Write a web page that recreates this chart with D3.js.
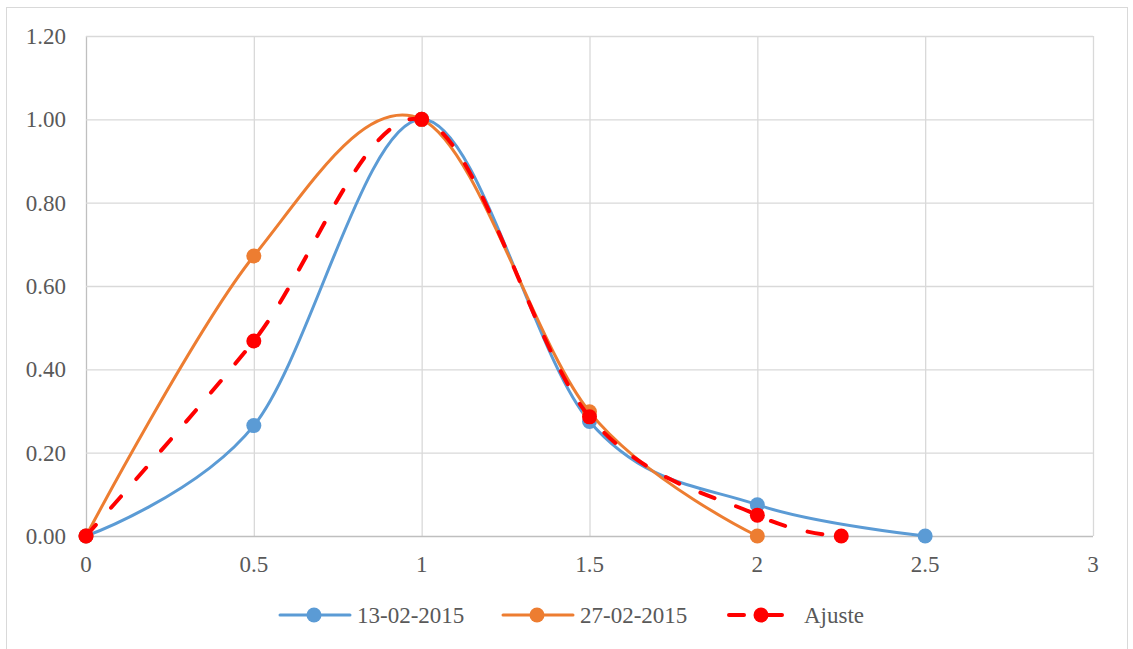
<!DOCTYPE html>
<html><head><meta charset="utf-8">
<script src="https://cdn.jsdelivr.net/npm/d3@7"></script>
<style>body{margin:0;background:#fff}svg{display:block}text{font-family:"Liberation Serif","Times New Roman",serif;}</style>
</head><body><svg id="c" width="1133" height="649"></svg>
<script>
const xTicks = [0, 0.5, 1, 1.5, 2, 2.5, 3];
const yTicks = [0, 0.2, 0.4, 0.6, 0.8, 1.0, 1.2];
const seriesNames = ["13-02-2015", "27-02-2015", "Ajuste"];
const x1 = [0, 0.5, 1, 1.5, 2, 2.5];
const y1 = [0, 0.265, 1.0, 0.275, 0.075, 0];
const x2 = [0, 0.5, 1, 1.5, 2];
const y2 = [0, 0.672, 1.0, 0.298, 0];
const x3 = [0, 0.5, 1, 1.5, 2, 2.25];
const y3 = [0, 0.468, 1.0, 0.286, 0.05, 0];
const colors = ["#5B9BD5", "#ED7D31", "#FF0000"];

const svg = d3.select("#c");
const txt = "#595959";
svg.append("rect").attr("x",6.5).attr("y",7.5).attr("width",1121).attr("height",660)
  .attr("fill","#fff").attr("stroke","#D9D9D9").attr("stroke-width",1);

const x = d3.scaleLinear().domain([0,3]).range([86,1093]);
const y = d3.scaleLinear().domain([0,1.2]).range([536,36]);

// grid
svg.append("g").selectAll("line").data(xTicks).join("line")
  .attr("x1",d=>x(d)+0.5).attr("x2",d=>x(d)+0.5).attr("y1",y(1.2)).attr("y2",y(0))
  .attr("stroke",d=>d===0?"#BFBFBF":"#D9D9D9").attr("stroke-width",1.3);
svg.append("g").selectAll("line").data(yTicks).join("line")
  .attr("y1",d=>y(d)+0.5).attr("y2",d=>y(d)+0.5).attr("x1",x(0)).attr("x2",x(3))
  .attr("stroke",d=>d===0?"#BFBFBF":"#D9D9D9").attr("stroke-width",1.3);

// tick labels
svg.append("g").selectAll("text").data(yTicks).join("text")
  .attr("x",66).attr("y",d=>y(d)+8).attr("text-anchor","end")
  .attr("font-size",23).attr("fill",txt)
  .text(d=>d3.format(".2f")(d));
svg.append("g").selectAll("text").data(xTicks).join("text")
  .attr("x",d=>x(d)).attr("y",572).attr("text-anchor","middle")
  .attr("font-size",23).attr("fill",txt)
  .text(d=>String(d));

const series = [
  {xs:x1, ys:y1, c:colors[0], dash:null},
  {xs:x2, ys:y2, c:colors[1], dash:null},
  {xs:x3, ys:y3, c:colors[2], dash:"15,23"}
];
const line = d3.line().x(d=>x(d[0])).y(d=>y(d[1])).curve(d3.curveCardinal.tension(0));
series.forEach(s=>{
  const pts = s.xs.map((v,i)=>[v,s.ys[i]]);
  svg.append("path").attr("d",line(pts)).attr("fill","none").attr("stroke",s.c)
    .attr("stroke-width",s.dash?4:3).attr("stroke-dasharray",s.dash).attr("stroke-linecap","round");
  svg.append("g").selectAll("circle").data(pts).join("circle")
    .attr("cx",d=>x(d[0])).attr("cy",d=>y(d[1])).attr("r",7.5).attr("fill",s.c);
});

// legend
const legX = [280, 503, 727];
series.forEach((s,i)=>{
  const g = svg.append("g");
  g.append("line").attr("x1",legX[i]+(s.dash?2:0)).attr("x2",legX[i]+70).attr("y1",615).attr("y2",615)
    .attr("stroke",s.c).attr("stroke-width",s.dash?4:3).attr("stroke-dasharray",s.dash)
    .attr("stroke-linecap","round");
  g.append("circle").attr("cx",legX[i]+34).attr("cy",615).attr("r",7.5).attr("fill",s.c);
  g.append("text").attr("x",legX[i]+77).attr("y",623)
    .attr("font-size",23).attr("fill",txt).text(seriesNames[i]);
});
</script></body></html>
